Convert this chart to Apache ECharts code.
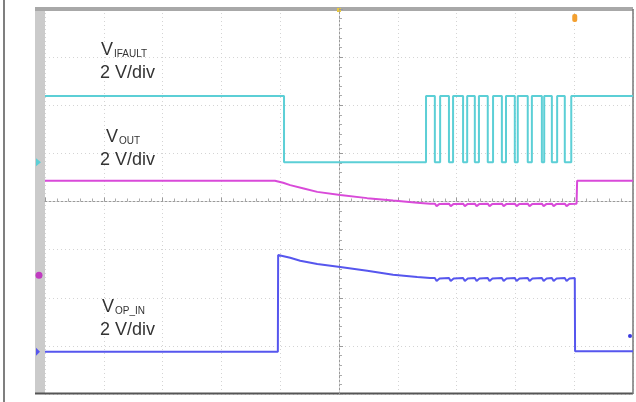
<!DOCTYPE html>
<html><head><meta charset="utf-8">
<script src="https://cdn.jsdelivr.net/npm/echarts@6/dist/echarts.min.js"></script>
<style>html,body{margin:0;padding:0;background:#fff}#c{width:636px;height:402px}</style>
</head><body><div id="c"></div>
<script>
// Time in divisions (-5..5), voltage in divisions (-4..4)
const faultHigh = 2.19;
const faultLow = 0.815;
const faultDropAt = -0.935;
const faultRise = [1.48, 1.72, 1.94, 2.18, 2.38, 2.62, 2.84, 3.04, 3.28, 3.49, 3.71, 3.95];
const faultFall = [1.63, 1.87, 2.11, 2.31, 2.53, 2.77, 2.99, 3.21, 3.45, 3.62, 3.84];

const vout = [[-5,0.43],[-1.09,0.43],[-0.95,0.39],[-0.83,0.34],[-0.60,0.27],[-0.37,0.20],[0.02,0.135],[0.48,0.07],[0.92,0.02],[1.33,-0.025],[1.55,-0.045],
 [1.63,-0.045],[1.66,-0.095],[1.71,-0.05],
 [1.87,-0.045],[1.90,-0.095],[1.95,-0.05],
 [2.11,-0.045],[2.14,-0.095],[2.19,-0.05],
 [2.31,-0.045],[2.34,-0.095],[2.39,-0.05],
 [2.53,-0.045],[2.56,-0.095],[2.61,-0.05],
 [2.77,-0.045],[2.80,-0.095],[2.85,-0.05],
 [2.99,-0.045],[3.02,-0.095],[3.07,-0.05],
 [3.21,-0.045],[3.24,-0.095],[3.29,-0.05],
 [3.45,-0.045],[3.48,-0.095],[3.53,-0.05],
 [3.62,-0.045],[3.65,-0.095],[3.70,-0.05],
 [3.84,-0.045],[3.87,-0.095],[3.92,-0.05],
 [4.04,-0.045],[4.05,0.43],[5,0.43]];

const vopin = [[-5,-3.12],[-1.04,-3.12],[-1.035,-1.11],[-0.83,-1.17],[-0.66,-1.23],[-0.37,-1.30],[0.02,-1.36],[0.48,-1.44],[0.70,-1.48],[0.92,-1.52],[1.33,-1.57],[1.55,-1.59],
 [1.63,-1.59],[1.66,-1.65],[1.71,-1.60],
 [1.87,-1.59],[1.90,-1.65],[1.95,-1.60],
 [2.11,-1.59],[2.14,-1.65],[2.19,-1.60],
 [2.31,-1.59],[2.34,-1.65],[2.39,-1.60],
 [2.53,-1.59],[2.56,-1.65],[2.61,-1.60],
 [2.77,-1.59],[2.80,-1.65],[2.85,-1.60],
 [2.99,-1.59],[3.02,-1.65],[3.07,-1.60],
 [3.21,-1.59],[3.24,-1.65],[3.29,-1.60],
 [3.45,-1.59],[3.48,-1.65],[3.53,-1.60],
 [3.62,-1.59],[3.65,-1.65],[3.70,-1.60],
 [3.84,-1.59],[3.87,-1.65],[3.92,-1.60],
 [4.01,-1.59],[4.015,-3.11],[5,-3.11]];

const labels = [
  {main:'V', sub:'IFAULT', scale:'2 V/div'},
  {main:'V', sub:'OUT', scale:'2 V/div'},
  {main:'V', sub:'OP_IN', scale:'2 V/div'}
];
const groundLevels = {cyan: 0.815, magenta: -1.53, blue: -3.12};

// build the IFAULT step trace from edge lists
const vifault = [[-5, faultHigh], [faultDropAt, faultHigh], [faultDropAt, faultLow]];
faultRise.forEach((r, i) => {
  vifault.push([r, faultLow], [r, faultHigh]);
  if (i < faultFall.length) vifault.push([faultFall[i], faultHigh], [faultFall[i], faultLow]);
});
vifault.push([5, faultHigh]);

const chart = echarts.init(document.getElementById('c'), null, {renderer: 'canvas'});
const font = '"Liberation Sans", Arial, sans-serif';
const gridLine = {show: true, lineStyle: {color: '#d4d4d4', type: [1, 3], width: 1}};
chart.setOption({
  animation: false,
  backgroundColor: '#fff',
  grid: {left: 45, right: 3, top: 9, bottom: 8, show: false},
  xAxis: {type: 'value', min: -5, max: 5, interval: 1,
    axisLine: {show: true, onZero: true, lineStyle: {color: '#9a9a9a', type: [2, 2], width: 1}},
    axisTick: {show: true, inside: true, length: 4, lineStyle: {color: '#9a9a9a'}},
    minorTick: {show: true, splitNumber: 5, length: 3, lineStyle: {color: '#aaa'}},
    axisLabel: {show: false}, splitLine: gridLine},
  yAxis: {type: 'value', min: -4, max: 4, interval: 1,
    axisLine: {show: true, onZero: true, lineStyle: {color: '#9a9a9a', type: [2, 2], width: 1}},
    axisTick: {show: true, inside: true, length: 4, lineStyle: {color: '#9a9a9a'}},
    minorTick: {show: true, splitNumber: 5, length: 3, lineStyle: {color: '#aaa'}},
    axisLabel: {show: false}, splitLine: gridLine},
  series: [
    {type: 'line', data: vifault, showSymbol: false, lineStyle: {color: '#5ccfd6', width: 2}, z: 3},
    {type: 'line', data: vout, showSymbol: false, lineStyle: {color: '#d94ad9', width: 2}, z: 4},
    {type: 'line', data: vopin, showSymbol: false, lineStyle: {color: '#5656ee', width: 2}, z: 5}
  ]
});

function py(v) { return chart.convertToPixel({yAxisIndex: 0}, v); }
function px(v) { return chart.convertToPixel({xAxisIndex: 0}, v); }
const labelPos = [{x: 101, y: 50.5}, {x: 106, y: 137.5}, {x: 102, y: 307.5}];
const g = [];
// frame
g.push({type: 'line', shape: {x1: 4, y1: 0, x2: 4, y2: 402}, style: {stroke: '#555', lineWidth: 1.5}});
g.push({type: 'rect', shape: {x: 35, y: 9, width: 10, height: 385}, style: {fill: '#cbcbcb'}});
g.push({type: 'rect', shape: {x: 35, y: 7, width: 598, height: 4}, style: {fill: '#a8a8a8'}});
g.push({type: 'line', shape: {x1: 35, y1: 393.5, x2: 633, y2: 393.5}, style: {stroke: '#555', lineWidth: 2}});
g.push({type: 'line', shape: {x1: 633, y1: 9, x2: 633, y2: 394}, style: {stroke: '#777', lineWidth: 1.5}});
// ground markers
g.push({type: 'polygon', shape: {points: [[36, py(groundLevels.cyan) - 4], [41, py(groundLevels.cyan)], [36, py(groundLevels.cyan) + 4]]}, style: {fill: '#5ccfd6'}});
g.push({type: 'circle', shape: {cx: 39, cy: py(groundLevels.magenta), r: 3.5}, style: {fill: '#c03cc0'}});
g.push({type: 'polygon', shape: {points: [[36, py(groundLevels.blue) - 4], [40, py(groundLevels.blue)], [36, py(groundLevels.blue) + 4]]}, style: {fill: '#5656ee'}});
// trigger markers
g.push({type: 'rect', shape: {x: px(0) - 2, y: 8, width: 4, height: 4}, style: {fill: '#e8c840'}});
g.push({type: 'rect', shape: {x: px(3.95) + 1, y: 14, width: 5, height: 8, r: 2}, style: {fill: '#f3a030'}});
g.push({type: 'circle', shape: {cx: 630, cy: 336, r: 2}, style: {fill: '#3a3ae0'}});
// labels
labels.forEach((l, i) => {
  const p = labelPos[i];
  g.push({type: 'text', x: p.x, y: p.y, style: {text: l.main, font: '18px ' + font, fill: '#333', textVerticalAlign: 'middle'}});
  g.push({type: 'text', x: p.x + 13, y: p.y + 3.5, style: {text: l.sub, font: '10px ' + font, fill: '#333', textVerticalAlign: 'middle'}});
  g.push({type: 'text', x: 100, y: p.y + 22.5, style: {text: l.scale, font: '18px ' + font, fill: '#333', textVerticalAlign: 'middle'}});
});
chart.setOption({graphic: g});
</script>
</body></html>
